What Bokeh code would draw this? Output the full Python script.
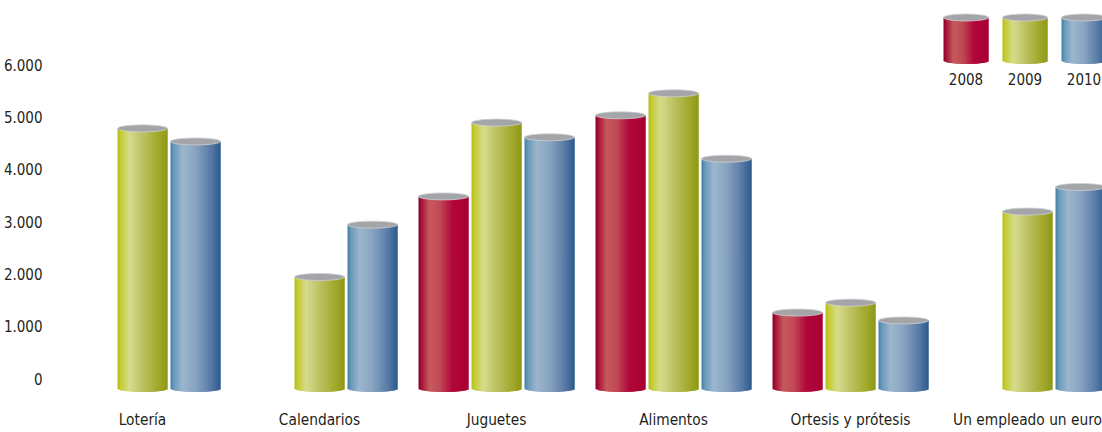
import math
from bokeh.plotting import figure
from bokeh.models import ColumnDataSource, FixedTicker, Range1d
from bokeh.embed import file_html
from bokeh.resources import INLINE
from bokeh.core.properties import value

# ---------------- data ----------------
categories = ["Lotería", "Calendarios", "Juguetes", "Alimentos",
              "Ortesis y prótesis", "Un empleado un euro"]
years = ["2008", "2009", "2010"]
v2008 = [None, None, 3480, 5030, 1260, None]
v2009 = [4780, 1940, 4890, 5450, 1450, 3190]
v2010 = [4530, 2940, 4610, 4200, 1110, 3660]
y_ticks = [0, 1000, 2000, 3000, 4000, 5000, 6000]
y_tick_labels = ["0", "1.000", "2.000", "3.000", "4.000", "5.000", "6.000"]

# ---------------- style / layout ----------------
FONT = "DejaVu Sans Condensed"
TEXT = "#231f20"
GROUP_PX = 177.0            # pixels per category
FRAME_L = 50
FRAME_W = 1052
FRAME_H = 432
Y0_PX = 378.0               # pixel row of value 0
PX_PER_K = 52.33            # pixels per 1000


def px2x(px):
    return (px - 140.0) / GROUP_PX


def px2y(py):
    return (Y0_PX - py) * 1000.0 / PX_PER_K


def dy(px):
    return px * 1000.0 / PX_PER_K


stops = {
    "2008": [(0.0, "#8a0026"), (0.07, "#a8173a"), (0.22, "#c65a5d"),
             (0.42, "#c04a55"), (0.68, "#b1063c"), (1.0, "#a8002f")],
    "2009": [(0.0, "#b4bd16"), (0.07, "#c6cd36"), (0.24, "#d6db8e"),
             (0.5, "#bcc262"), (0.8, "#a3aa2e"), (1.0, "#8e9916")],
    "2010": [(0.0, "#417f9f"), (0.07, "#6a9aba"), (0.24, "#9cb6cd"),
             (0.5, "#88a4c1"), (0.8, "#5a7ba7"), (1.0, "#2b5b8c")],
}


def hex2rgb(h):
    h = h.lstrip("#")
    return tuple(int(h[i:i + 2], 16) for i in (0, 2, 4))


def color_at(st, t):
    for (t0, c0), (t1, c1) in zip(st[:-1], st[1:]):
        if t0 <= t <= t1:
            f = (t - t0) / (t1 - t0) if t1 > t0 else 0
            a, b = hex2rgb(c0), hex2rgb(c1)
            return "#%02x%02x%02x" % tuple(int(round(a[i] + (b[i] - a[i]) * f)) for i in range(3))
    return st[-1][1]


strip = dict(left=[], right=[], top=[], bottom=[], color=[])
caps = dict(x=[], y=[], w=[], h=[])

N = 40


def add_cylinder(xc, top, w, floor, ell_px, year):
    sw = w / N
    e = dy(ell_px / 2.0)
    for k in range(N):
        tm = ((k + 0.5) / N) * 2 - 1
        l = xc - w / 2 + k * sw
        strip["left"].append(l)
        strip["right"].append(l + sw * 2.0 if k < N - 1 else l + sw)
        strip["top"].append(top)
        strip["bottom"].append(floor - e * math.sqrt(max(0.0, 1 - tm * tm)))
        strip["color"].append(color_at(stops[year], (k + 0.5) / N))
    caps["x"].append(xc)
    caps["y"].append(top)
    caps["w"].append(w)
    caps["h"].append(ell_px)


series = {"2008": v2008, "2009": v2009, "2010": v2010}
BAR_W = 50.0 / GROUP_PX
PITCH = 53.0 / GROUP_PX
FLOOR = px2y(388)
for j, yr in enumerate(years):
    for i, v in enumerate(series[yr]):
        if v is None:
            continue
        add_cylinder(i + (j - 1) * PITCH, v, BAR_W, FLOOR, 7.0, yr)

# legend cylinders
leg_px = [963.5, 1022.5, 1081.5]
for j, yr in enumerate(years):
    add_cylinder(px2x(leg_px[j]), px2y(17), 45.0 / GROUP_PX, px2y(60), 7.0, yr)

p = figure(frame_width=FRAME_W, frame_height=FRAME_H,
           min_border_left=FRAME_L - 2, min_border_right=0,
           min_border_top=0, min_border_bottom=0,
           x_range=Range1d(px2x(FRAME_L), px2x(FRAME_L + FRAME_W)),
           y_range=Range1d(px2y(FRAME_H), px2y(0)),
           output_backend="svg", toolbar_location=None)

p.quad(left="left", right="right", top="top", bottom="bottom",
       source=ColumnDataSource(strip), fill_color="color", line_color=None)
p.ellipse(x="x", y="y", width="w", height="h", height_units="screen",
          source=ColumnDataSource(caps), fill_color="#a3a5a9",
          line_color="#cfd0d3", line_width=0.8)

# legend labels
p.text(x=[px2x(x) for x in leg_px], y=[px2y(78)] * 3, text=years,
       text_font=value(FONT), text_font_size="15px", text_color=TEXT,
       text_align="center", text_baseline="middle")

# category labels
p.text(x=list(range(len(categories))), y=[px2y(419)] * len(categories),
       text=categories, text_font=value(FONT), text_font_size="15.3px",
       text_color=TEXT, text_align="center", text_baseline="middle")

p.xaxis.visible = False

p.yaxis.ticker = FixedTicker(ticks=y_ticks)
p.yaxis.major_label_overrides = {t: l for t, l in zip(y_ticks, y_tick_labels)}
p.yaxis.major_label_text_font = FONT
p.yaxis.major_label_text_font_size = "15px"
p.yaxis.major_label_text_color = TEXT
p.yaxis.major_label_standoff = 4
p.yaxis.axis_line_color = None
p.yaxis.major_tick_line_color = None
p.yaxis.minor_tick_line_color = None

p.xgrid.grid_line_color = None
p.ygrid.grid_line_color = None
p.outline_line_color = None
p.background_fill_color = "white"
p.border_fill_color = "white"

open("out.html", "w").write(file_html(p, INLINE))
